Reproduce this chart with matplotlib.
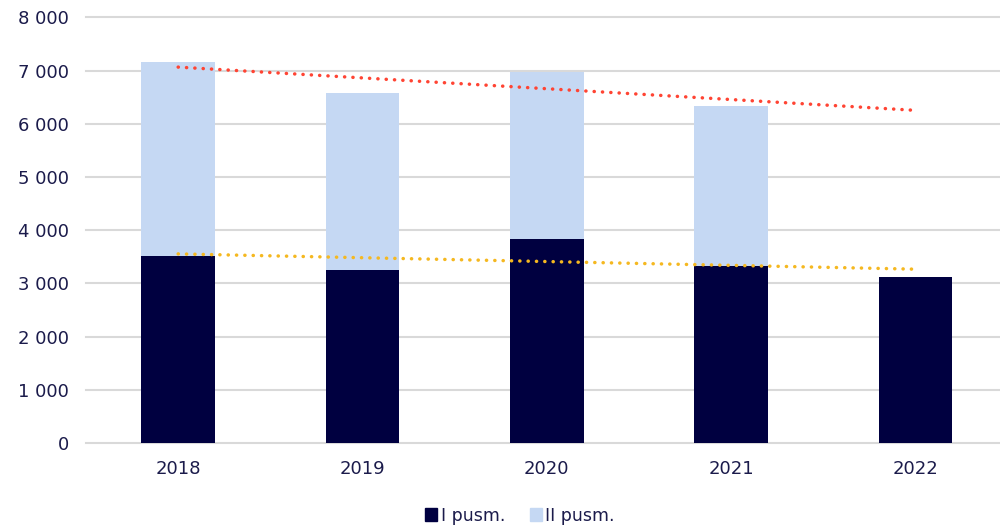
import matplotlib
matplotlib.use("Agg")
import matplotlib.pyplot as plt
from matplotlib.patches import Patch

years = ["2018", "2019", "2020", "2021", "2022"]
first_half = [3520, 3250, 3830, 3325, 3125]
second_half = [3635, 3330, 3150, 3015, 0]
trend_total = [7067, 6254]     # red dotted trend (2018 -> 2022)
trend_first = [3555, 3268]     # yellow dotted trend (2018 -> 2022)
yticks = [0, 1000, 2000, 3000, 4000, 5000, 6000, 7000, 8000]
ytick_labels = ["0", "1 000", "2 000", "3 000", "4 000", "5 000", "6 000", "7 000", "8 000"]

txt = "#1b1b4b"
c1 = "#000040"
c2 = "#c5d8f3"

plt.rcParams['font.family'] = ['DejaVu Sans']
fig = plt.figure(figsize=(10, 5.25), dpi=100)
ax = fig.add_axes([0.086, 0.1562, 0.914, 0.8105])

x = list(range(len(years)))
ax.bar(x, first_half, width=0.4, color=c1, zorder=2)
ax.bar(x, second_half, width=0.4, bottom=first_half, color=c2, zorder=2)

ax.plot([x[0], x[-1]], trend_total, color="#ff4433", lw=2.5,
        linestyle=(0, (0.05, 2.35)), dash_capstyle="round", zorder=3)
ax.plot([x[0], x[-1]], trend_first, color="#f5b820", lw=2.5,
        linestyle=(0, (0.05, 2.35)), dash_capstyle="round", zorder=3)

ax.set_xlim(-0.5, 4.458)
ax.set_ylim(0, 8000)
ax.set_yticks(yticks)
ax.set_yticklabels(ytick_labels)
ax.set_xticks(x)
ax.set_xticklabels(years)
ax.yaxis.grid(True, color="#d9d9d9", lw=1.5, zorder=0, clip_on=False)
for gl in ax.get_ygridlines():
    gl.set_clip_on(False)
ax.set_axisbelow(True)
for s in ax.spines.values():
    s.set_visible(False)
ax.tick_params(axis="both", length=0, labelsize=13, colors=txt)
ax.tick_params(axis="y", pad=12)
ax.tick_params(axis="x", pad=12)

handles = [Patch(color=c1), Patch(color=c2)]
fig.legend(handles, ["I pusm.", "II pusm."], loc="center", bbox_to_anchor=(0.52, 0.018),
           ncol=2, frameon=False, fontsize=12.5, handlelength=0.7, handleheight=0.7,
           handletextpad=0.2, columnspacing=1.4, labelcolor=txt)

fig.savefig("out.png", dpi=100)
